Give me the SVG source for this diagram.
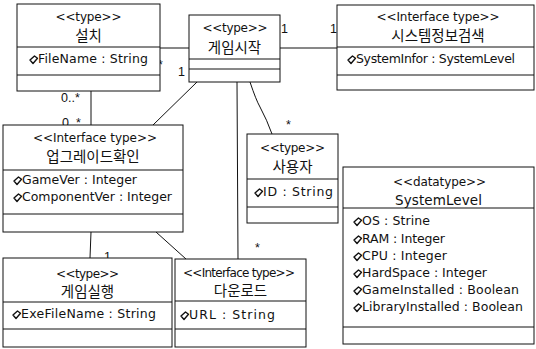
<svg xmlns="http://www.w3.org/2000/svg" width="536" height="349" viewBox="0 0 536 349">
  <style>
    .box { fill: #ffffff; stroke: #111111; stroke-width: 1; }
    .div { stroke: #111111; stroke-width: 1; }
    .ln { fill: none; stroke: #111111; stroke-width: 1; }
    text { font-family: "DejaVu Sans", "Noto Sans CJK KR", sans-serif; fill: #111111; }
    .st { font-size: 12px; text-anchor: middle; }
    .nm { font-size: 14.5px; text-anchor: middle; font-family: "Noto Sans CJK KR", "DejaVu Sans", sans-serif; }
    .dn { font-size: 13.5px; text-anchor: middle; }
    .at { font-size: 12.5px; }
    .mul { font-size: 12.5px; font-family: "Liberation Sans", sans-serif; }
  </style>
  <defs>
    <!-- attribute visibility marker -->
    <path id="dia" d="M0,-3 L4.5,-7 L7.5,-4.8 L3,0.5 Z" fill="none" stroke="#111111" stroke-width="1.4" stroke-linejoin="round"/>
  </defs>

  <!-- associations -->
  <g id="connectors">
    <line class="ln" x1="160" y1="48" x2="189" y2="48"/>
    <line class="ln" x1="280" y1="48" x2="337" y2="48"/>
    <line class="ln" x1="91" y1="91" x2="91" y2="125"/>
    <line class="ln" x1="197" y1="82" x2="153" y2="125"/>
    <path class="ln" d="M250,82 Q256,100 260,107 Q267,120 272,134"/>
    <line class="ln" x1="237" y1="82" x2="238" y2="259"/>
    <line class="ln" x1="91" y1="232" x2="90" y2="258"/>
    <line class="ln" x1="156" y1="232" x2="186" y2="259"/>

    <text class="mul" x="158" y="69">*</text>
    <text class="mul" x="178" y="76">1</text>
    <text class="mul" x="281" y="33">1</text>
    <text class="mul" x="330" y="33">1</text>
    <text class="mul" x="61" y="102">0..*</text>
    <text class="mul" x="62" y="127">0..*</text>
    <text class="mul" x="162" y="142">1</text>
    <text class="mul" x="264" y="81">1</text>
    <text class="mul" x="286" y="129">*</text>
    <text class="mul" x="255" y="252">*</text>
    <text class="mul" x="104" y="261">1</text>
  </g>

  <!-- 설치 -->
  <g id="install">
    <rect class="box" x="17" y="4" width="143" height="87"/>
    <line class="div" x1="17" y1="47" x2="160" y2="47"/>
    <line class="div" x1="17" y1="75" x2="160" y2="75"/>
    <text class="st" x="88.5" y="21" textLength="66">&lt;&lt;type&gt;&gt;</text>
    <text class="nm" x="88.5" y="41">설치</text>
    <use href="#dia" x="30" y="63"/>
    <text class="at" x="38" y="63" textLength="110">FileName : String</text>
  </g>

  <!-- 게임시작 -->
  <g id="game-start">
    <rect class="box" x="189" y="15" width="91" height="67"/>
    <line class="div" x1="189" y1="59" x2="280" y2="59"/>
    <line class="div" x1="189" y1="69" x2="280" y2="69"/>
    <text class="st" x="235" y="32" textLength="65">&lt;&lt;type&gt;&gt;</text>
    <text class="nm" x="234.5" y="53">게임시작</text>
  </g>

  <!-- 시스템정보검색 -->
  <g id="system-info">
    <rect class="box" x="337" y="5" width="197" height="85"/>
    <line class="div" x1="337" y1="47" x2="534" y2="47"/>
    <line class="div" x1="337" y1="75" x2="534" y2="75"/>
    <text class="st" x="438" y="21" textLength="123">&lt;&lt;Interface type&gt;&gt;</text>
    <text class="nm" x="438" y="41">시스템정보검색</text>
    <use href="#dia" x="348" y="63"/>
    <text class="at" x="356" y="63" textLength="159">SystemInfor : SystemLevel</text>
  </g>

  <!-- 업그레이드확인 -->
  <g id="upgrade-check">
    <rect class="box" x="3" y="125" width="180" height="107"/>
    <line class="div" x1="3" y1="170" x2="183" y2="170"/>
    <line class="div" x1="3" y1="214" x2="183" y2="214"/>
    <text class="st" x="95" y="142" textLength="124">&lt;&lt;Interface type&gt;&gt;</text>
    <text class="nm" x="93" y="162">업그레이드확인</text>
    <use href="#dia" x="14" y="184"/>
    <text class="at" x="22" y="184" textLength="115">GameVer : Integer</text>
    <use href="#dia" x="14" y="201"/>
    <text class="at" x="22" y="201" textLength="150">ComponentVer : Integer</text>
  </g>

  <!-- 사용자 -->
  <g id="user">
    <rect class="box" x="247" y="134" width="91" height="89"/>
    <line class="div" x1="247" y1="179" x2="338" y2="179"/>
    <line class="div" x1="247" y1="207" x2="338" y2="207"/>
    <text class="st" x="292.5" y="152" textLength="65">&lt;&lt;type&gt;&gt;</text>
    <text class="nm" x="292.5" y="172">사용자</text>
    <use href="#dia" x="255" y="196"/>
    <text class="at" x="263" y="196" textLength="70">ID : String</text>
  </g>

  <!-- SystemLevel -->
  <g id="system-level">
    <rect class="box" x="343" y="167" width="191" height="177"/>
    <line class="div" x1="343" y1="208" x2="534" y2="208"/>
    <line class="div" x1="343" y1="327" x2="534" y2="327"/>
    <text class="st" x="439.5" y="186" textLength="93">&lt;&lt;datatype&gt;&gt;</text>
    <text class="dn" x="438.5" y="205" textLength="87">SystemLevel</text>
    <use href="#dia" x="354" y="225"/>
    <text class="at" x="362" y="225" textLength="68">OS : Strine</text>
    <use href="#dia" x="354" y="243"/>
    <text class="at" x="362" y="243" textLength="83">RAM : Integer</text>
    <use href="#dia" x="354" y="260"/>
    <text class="at" x="362" y="260" textLength="85">CPU : Integer</text>
    <use href="#dia" x="354" y="277"/>
    <text class="at" x="362" y="277" textLength="125">HardSpace : Integer</text>
    <use href="#dia" x="354" y="294"/>
    <text class="at" x="362" y="294" textLength="157">GameInstalled : Boolean</text>
    <use href="#dia" x="354" y="311"/>
    <text class="at" x="362" y="311" textLength="161">LibraryInstalled : Boolean</text>
  </g>

  <!-- 게임실행 -->
  <g id="game-run">
    <rect class="box" x="3" y="258" width="169" height="89"/>
    <line class="div" x1="3" y1="302" x2="172" y2="302"/>
    <line class="div" x1="3" y1="329" x2="172" y2="329"/>
    <text class="st" x="87.5" y="278" textLength="63">&lt;&lt;type&gt;&gt;</text>
    <text class="nm" x="87.5" y="297">게임실행</text>
    <use href="#dia" x="13" y="318"/>
    <text class="at" x="21" y="318" textLength="135">ExeFileName : String</text>
  </g>

  <!-- 다운로드 -->
  <g id="download">
    <rect class="box" x="175" y="259" width="131" height="88"/>
    <line class="div" x1="175" y1="301" x2="306" y2="301"/>
    <line class="div" x1="175" y1="329" x2="306" y2="329"/>
    <text class="st" x="239" y="277" textLength="112">&lt;&lt;Interface type&gt;&gt;</text>
    <text class="nm" x="240.5" y="296">다운로드</text>
    <use href="#dia" x="181" y="319"/>
    <text class="at" x="189" y="319" textLength="86">URL : String</text>
  </g>
</svg>
